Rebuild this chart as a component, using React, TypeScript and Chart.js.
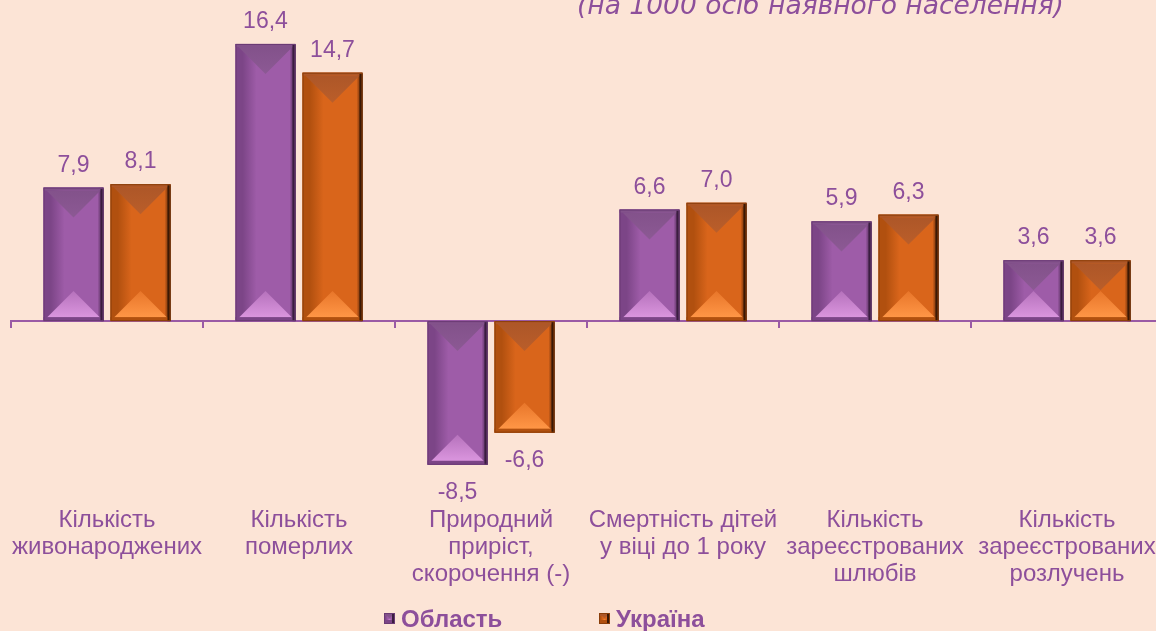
import React, { useEffect, useRef } from "react";
import { Chart, registerables } from "chart.js";

Chart.register(...registerables);

const categories: string[][] = [
  ["Кількість", "живонароджених"],
  ["Кількість", "померлих"],
  ["Природний", "приріст,", "скорочення (-)"],
  ["Смертність дітей", "у віці до 1 року"],
  ["Кількість", "зареєстрованих", "шлюбів"],
  ["Кількість", "зареєстрованих", "розлучень"],
];
const seriesNames = ["Область", "Україна"];
const oblastValues = [7.9, 16.4, -8.5, 6.6, 5.9, 3.6];
const ukraineValues = [8.1, 14.7, -6.6, 7.0, 6.3, 3.6];
const titleText = "(на 1000 осіб наявного населення)";

const BG = "#FCE4D6";
const TEXT = "#8D4F9B";
const AXIS = "#9A5AA5";

type Pal = {
  base: string; left: string; edge: string; topA: string; topB: string;
  botA: string; botB: string; border: string;
};
const palettes: Pal[] = [
  { base: "#9E5CA8", left: "#7C4587", edge: "#3A1D3F", topA: "#83528B", topB: "#8C5994",
    botA: "#B672BC", botB: "#DA95DE", border: "#6A3A74" },
  { base: "#D9651B", left: "#B1500F", edge: "#3A1805", topA: "#AE5728", topB: "#BA5E2A",
    botA: "#E8762A", botB: "#FF9646", border: "#8A3E0A" },
];

function fmt(v: number) {
  return v.toFixed(1).replace(".", ",");
}

function drawBevel(ctx: CanvasRenderingContext2D, l: number, t: number, r: number, b: number, p: Pal, inset = 4) {
  const w = r - l, h = b - t;
  const g = ctx.createLinearGradient(l, 0, r, 0);
  g.addColorStop(0, p.left);
  g.addColorStop(0.12, p.left);
  g.addColorStop(0.35, p.base);
  g.addColorStop(0.9, p.base);
  g.addColorStop(1, p.edge);
  ctx.fillStyle = g;
  ctx.fillRect(l, t, w, h);
  const il = l + inset, ir = r - inset, it = t + inset, ib = b - inset;
  const d = Math.max(0, Math.min((ir - il) / 2, (ib - it) / 2));
  const cx = (il + ir) / 2;
  // top triangle
  ctx.beginPath();
  ctx.moveTo(il - 1, it - 1);
  ctx.lineTo(ir + 1, it - 1);
  ctx.lineTo(cx, it + d);
  ctx.closePath();
  const gt = ctx.createLinearGradient(0, it, 0, it + d);
  gt.addColorStop(0, p.topA);
  gt.addColorStop(1, p.topB);
  ctx.fillStyle = gt;
  ctx.fill();
  // bottom triangle
  ctx.beginPath();
  ctx.moveTo(il - 1, ib + 1);
  ctx.lineTo(ir + 1, ib + 1);
  ctx.lineTo(cx, ib - d);
  ctx.closePath();
  const gb = ctx.createLinearGradient(0, ib - d, 0, ib);
  gb.addColorStop(0, p.botA);
  gb.addColorStop(1, p.botB);
  ctx.fillStyle = gb;
  ctx.fill();
  // bevel bands
  ctx.fillStyle = p.topA;
  ctx.fillRect(l, t, w, Math.min(3, h));
  ctx.fillStyle = p.left;
  ctx.fillRect(l, b - Math.min(4, h), w, Math.min(4, h));
  ctx.fillStyle = p.edge;
  ctx.fillRect(r - 3, t + 1, 3, h - 1);
  ctx.strokeStyle = p.border;
  ctx.lineWidth = 1;
  ctx.strokeRect(l + 0.5, t + 0.5, w - 1, h - 1);
}

const overlayPlugin = {
  id: "overlay",
  afterDatasetsDraw(chart: any) {
    const ctx: CanvasRenderingContext2D = chart.ctx;
    ctx.save();
    chart.data.datasets.forEach((ds: any, di: number) => {
      const meta = chart.getDatasetMeta(di);
      meta.data.forEach((bar: any, i: number) => {
        const { x, y, base, width } = bar.getProps(["x", "y", "base", "width"], true);
        const top = Math.min(y, base);
        const bottom = Math.max(y, base);
        drawBevel(ctx, x - width / 2, top, x + width / 2, bottom, palettes[di]);
        const v = ds.data[i] as number;
        ctx.fillStyle = TEXT;
        ctx.font = "23px 'Liberation Sans', Arial, sans-serif";
        ctx.textAlign = "center";
        ctx.textBaseline = "alphabetic";
        if (v >= 0) ctx.fillText(fmt(v), x, top - 16);
        else ctx.fillText(fmt(v), x, bottom + 34);
      });
    });
    ctx.restore();
  },
  afterDraw(chart: any) {
    const ctx: CanvasRenderingContext2D = chart.ctx;
    const xs = chart.scales.x;
    ctx.save();
    // category labels
    ctx.fillStyle = TEXT;
    ctx.font = "24px 'Liberation Sans', Arial, sans-serif";
    ctx.textAlign = "center";
    ctx.textBaseline = "alphabetic";
    categories.forEach((lines, i) => {
      const cx = xs.getPixelForValue(i);
      lines.forEach((ln, k) => {
        ctx.fillText(ln, cx, 527 + k * 27);
      });
    });
    // title (clipped at top)
    ctx.font = "italic 26.5px 'DejaVu Sans', Verdana, sans-serif";
    ctx.textAlign = "left";
    ctx.fillText(titleText, 577, 14);
    // legend
    const items = [
      { x: 384, name: seriesNames[0], p: palettes[0] },
      { x: 599, name: seriesNames[1], p: palettes[1] },
    ];
    items.forEach((it) => {
      drawBevel(ctx, it.x, 613, it.x + 11, 624, it.p, 2);
      ctx.fillStyle = TEXT;
      ctx.font = "bold 24px 'Liberation Sans', Arial, sans-serif";
      ctx.textAlign = "left";
      ctx.fillText(it.name, it.x + 17, 627);
    });
    ctx.restore();
  },
};

export default function App() {
  const ref = useRef<HTMLCanvasElement | null>(null);
  useEffect(() => {
    if (!ref.current) return;
    const chart = new Chart(ref.current, {
      type: "bar",
      data: {
        labels: categories.map((c) => c.join(" ")),
        datasets: [
          { label: seriesNames[0], data: oblastValues, backgroundColor: palettes[0].base, borderWidth: 0 },
          { label: seriesNames[1], data: ukraineValues, backgroundColor: palettes[1].base, borderWidth: 0 },
        ],
      },
      options: {
        responsive: false,
        animation: false,
        devicePixelRatio: 1,
        layout: { padding: { left: 11, right: 0, top: 0, bottom: 124 } },
        datasets: { bar: { categoryPercentage: 0.698, barPercentage: 0.895 } },
        plugins: { legend: { display: false }, tooltip: { enabled: false }, title: { display: false } },
        scales: {
          x: {
            position: { y: 0 } as any,
            ticks: { display: false },
            grid: { display: true, drawOnChartArea: false, drawTicks: true, tickLength: 6, color: AXIS, lineWidth: 2, offset: true },
            border: { display: true, color: AXIS, width: 2 },
          },
          y: { display: false, min: -11, max: 19 },
        },
      },
      plugins: [overlayPlugin],
    });
    return () => chart.destroy();
  }, []);
  return (
    <div style={{ position: "fixed", left: 0, top: 0, width: 1156, height: 631, overflow: "hidden", background: BG }}>
      <canvas ref={ref} width={1163} height={631} style={{ width: 1163, height: 631, display: "block" }} />
    </div>
  );
}
